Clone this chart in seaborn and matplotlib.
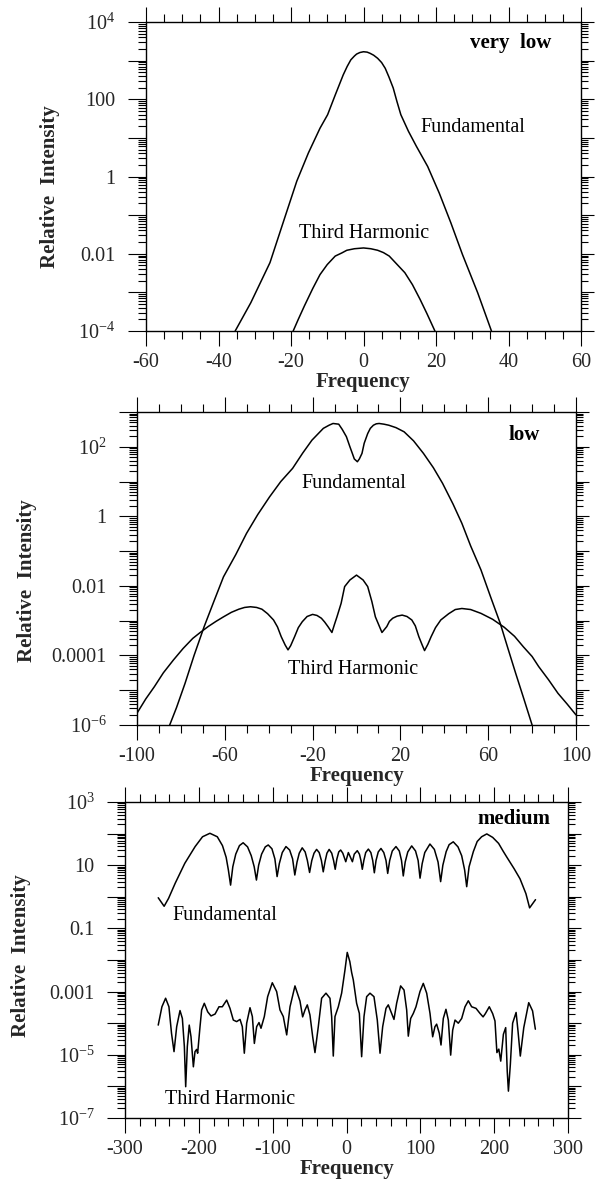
import numpy as np
import matplotlib
matplotlib.use("Agg")
import matplotlib.pyplot as plt
import seaborn as sns
from matplotlib.ticker import FixedLocator, FixedFormatter, LogLocator, NullFormatter, MultipleLocator

# ---------------- data (log10 of relative intensity) ----------------
# Panel 1: very low
vl_fund_x = [-35.4, -31.1, -25.8, -21.6, -18.4, -15.2, -12.0, -9.9, -7.8, -5.6,
             -4.5, -3.5, -2.5, -1.9, -1.0, 0.0, 1.0, 1.8, 2.8, 3.9,
             5.0, 6.0, 7.0, 8.2, 9.2, 10.3, 12.4, 14.6, 17.7, 20.9,
             24.1, 27.3, 31.5, 35.3]
vl_fund_log = [-4.00, -3.27, -2.23, -1.03, -0.12, 0.61, 1.25, 1.60, 2.11, 2.63,
               2.85, 3.02, 3.12, 3.17, 3.21, 3.23, 3.22, 3.19, 3.14, 3.06,
               2.95, 2.80, 2.58, 2.29, 1.95, 1.60, 1.17, 0.78, 0.26, -0.43,
               -1.20, -2.02, -3.01, -4.00]
vl_third_x = [-19.4, -18.0, -16.3, -14.0, -12.0, -10.0, -7.8, -6.0, -4.6, -2.5, 0.0,
              2.0, 3.9, 5.5, 7.1, 9.0, 11.4, 13.5, 15.6, 17.5, 19.7]
vl_third_log = [-4.00, -3.70, -3.35, -2.90, -2.54, -2.28, -2.06, -1.98, -1.91, -1.87, -1.85,
                -1.87, -1.91, -1.97, -2.06, -2.25, -2.49, -2.80, -3.18, -3.55, -4.00]

# Panel 2: low
lo_fund_x = [-85.1, -82, -78.1, -74, -69.4, -65, -60.6, -55, -50.1, -45,
             -39.6, -34.5, -29.1, -24.5, -20.3, -15.1, -12.5, -10.7, -8.1, -6.5,
             -4.6, -3, -1.9, -1, 0.4, 1.3, 2.5, 3.5, 5.1, 6.3,
             7.7, 9, 10.3, 12.5, 14.7, 18, 21.7, 26, 30.5, 35,
             39.2, 44, 48, 52, 56.7, 61, 65.5, 69, 72.5, 76, 80]
lo_fund_log = [-6.0, -5.5, -4.80, -4.0, -3.17, -2.45, -1.74, -1.1, -0.49, 0.05,
               0.56, 1.0, 1.38, 1.82, 2.19, 2.53, 2.62, 2.67, 2.65, 2.50,
               2.29, 2.0, 1.81, 1.65, 1.57, 1.65, 1.81, 2.1, 2.38, 2.53,
               2.62, 2.66, 2.67, 2.65, 2.62, 2.55, 2.43, 2.17, 1.81, 1.40,
               0.95, 0.35, -0.20, -0.85, -1.54, -2.3, -3.08, -3.8, -4.51, -5.2, -6.0]
lo_third_x = [-100, -96, -92.1, -88, -83.4, -79, -74.6, -71, -67.6, -64,
              -60.6, -57, -53.6, -51, -48.3, -45.5, -43.1, -40.5, -37.8, -36,
              -34.3, -32.5, -31.2, -30, -28.2, -26.5, -24.7, -22.5, -20.0, -18,
              -16.0, -14.5, -13.0, -11.2, -10, -8.9, -7, -5.4, -3, 0,
              3, 5.1, 7, 8.6, 10, 11.6, 13.8, 15, 16.5, 18.5,
              20.8, 23, 25.2, 26.8, 28.4, 29.8, 31.0, 32.5, 34.0, 36,
              38.4, 42, 45, 48, 52, 56.7, 62, 67.3, 72, 76,
              80, 83, 87.5, 91.8, 96, 100]
lo_third_log = [-5.66, -5.25, -4.90, -4.5, -4.13, -3.8, -3.51, -3.33, -3.17, -3.02,
                -2.89, -2.76, -2.67, -2.62, -2.60, -2.62, -2.67, -2.8, -2.98, -3.18,
                -3.46, -3.70, -3.84, -3.72, -3.46, -3.2, -3.03, -2.88, -2.82, -2.85,
                -2.93, -3.04, -3.17, -3.34, -3.1, -2.89, -2.5, -2.02, -1.83, -1.69,
                -1.83, -2.02, -2.45, -2.89, -3.1, -3.34, -3.17, -3.02, -2.93, -2.87,
                -2.84, -2.88, -2.98, -3.15, -3.46, -3.68, -3.86, -3.68, -3.46, -3.2,
                -2.98, -2.8, -2.68, -2.65, -2.68, -2.79, -2.96, -3.19, -3.45, -3.75,
                -4.03, -4.32, -4.7, -5.09, -5.4, -5.71]

# Panel 3: medium
me_fund_x = [-255, -247, -241, -232, -219, -205, -195, -185, -175, -168, -163, -160, -157,
             -154, -150, -145, -140, -134, -129, -125, -122,
             -119, -115, -110, -106, -101, -97, -94,
             -91, -87, -82, -77, -73, -70,
             -67, -64, -60, -56, -53, -50,
             -47, -44, -40.5, -37, -34, -31.5,
             -29, -26.5, -23.5, -20, -17.5, -15.3,
             -13, -10.5, -7.9, -5, -1,
             2.5, 8,
             10.5, 14.6, 17.5, 19.5, 21.4,
             23.5, 26, 29.6, 33, 35.5, 37.7,
             40, 43, 46.7, 50.5, 53.5, 55.8,
             58.5, 62, 67, 71.5, 74.5, 76.9,
             79.5, 83, 88.3, 93.5, 97, 99.6,
             102.5, 106, 113, 119, 124, 127.5,
             130.5, 135, 139, 144.6, 151, 156, 160, 162.8,
             166, 171.8, 177, 183, 190, 198, 206, 212, 217, 227, 235, 243, 248, 252, 256]
me_fund_log = [-0.03, -0.30, -0.05, 0.43, 1.06, 1.59, 1.90, 2.01, 1.90, 1.62, 1.25, 0.85, 0.37,
               0.95, 1.35, 1.62, 1.71, 1.58, 1.30, 0.95, 0.53,
               1.00, 1.35, 1.58, 1.64, 1.52, 1.20, 0.64,
               1.05, 1.40, 1.59, 1.48, 1.20, 0.69,
               1.10, 1.38, 1.55, 1.42, 1.15, 0.77,
               1.15, 1.38, 1.50, 1.40, 1.15, 0.79,
               1.12, 1.38, 1.50, 1.38, 1.15, 0.87,
               1.20, 1.42, 1.48, 1.38, 1.11,
               1.40, 1.11,
               1.35, 1.46, 1.35, 1.15, 0.87,
               1.15, 1.40, 1.51, 1.40, 1.15, 0.76,
               1.15, 1.42, 1.53, 1.40, 1.15, 0.74,
               1.15, 1.45, 1.59, 1.45, 1.15, 0.66,
               1.10, 1.42, 1.61, 1.45, 1.15, 0.59,
               1.05, 1.40, 1.67, 1.50, 1.10, 0.48,
               1.00, 1.43, 1.65, 1.74, 1.58, 1.30, 0.85, 0.32,
               0.95, 1.43, 1.75, 1.90, 1.99, 1.88, 1.69, 1.45, 1.26, 0.89, 0.57, 0.10, -0.35, -0.22, -0.09]
me_third_x = [-255, -250, -245, -240.5, -237, -233.6, -230, -225.5, -222.3, -219.6, -217.8, -215.6, -213,
              -210.6, -207.4, -205.2, -203, -201.6, -198.4, -196.2, -192.6, -188, -183.5, -178, -172.7,
              -168.2, -162.3, -157.8, -153.3, -148.8, -144.2, -141.1, -138.4, -135.2, -130.7, -127.5,
              -124.8, -121.7, -118.5, -115.8, -111.3, -106.8, -100.5, -94.6, -90.1, -85.6, -81, -76.5,
              -69.8, -63, -59.4, -56.2, -53.1, -49.5, -45.8, -42.7, -38.2, -33.7, -27.8, -22.4, -20.1,
              -17.9, -15.6, -11.1, -6.6, -2.1, 1, 4.5, 7, 9.2, 13.7, 17.4, 20.5, 23.7, 27.3, 31.8, 37.2,
              41.7, 45.4, 49, 53.5, 56.6, 61.2, 64.3, 67.9, 73.3, 77.9, 81.5, 83.7, 86.9, 90.5, 94.1,
              99.5, 104, 108.6, 113.1, 116.7, 119.8, 122.1, 125.7, 128, 131.1, 134.7, 137.9, 141.1,
              143.8, 147, 151.4, 156, 160.5, 165, 169.5, 175.4, 180.8, 185, 188, 193.4, 198, 201.1,
              203.7, 206.3, 208.9, 212.5, 215.6, 217.7, 219.3, 221.9, 225, 229.7, 232.3, 235.4, 240.1,
              246.8, 252, 255.8]
me_third_log = [-4.06, -3.48, -3.21, -3.48, -4.32, -4.90, -4.11, -3.60, -3.85, -4.74, -6.01, -4.74, -4.06,
                -4.43, -5.38, -4.90, -4.83, -4.95, -4.11, -3.58, -3.37, -3.64, -3.77, -3.71, -3.48,
                -3.48, -3.27, -3.53, -3.90, -3.95, -3.88, -4.11, -4.95, -4.00, -3.51, -3.79,
                -4.64, -4.11, -3.98, -4.16, -3.79, -3.16, -2.72, -3.00, -3.58, -3.79, -4.37, -3.48,
                -2.82, -3.30, -3.80, -3.58, -3.42, -3.74, -4.43, -4.93, -4.11, -3.21, -3.05, -3.21, -3.79,
                -5.04, -3.79, -3.48, -3.05, -2.32, -1.76, -2.05, -2.40, -2.63, -3.37, -3.69, -5.06, -3.79, -3.16, -3.05, -3.16,
                -3.90, -4.95, -4.11, -3.53, -3.42, -3.69, -3.88, -3.37, -2.82, -2.95, -3.58, -4.41, -3.85, -3.69, -3.48,
                -3.00, -2.74, -3.05, -3.69, -4.43, -4.11, -4.03, -4.32, -4.69, -3.85, -3.56, -3.90, -5.01,
                -4.22, -3.90, -4.00, -3.85, -3.48, -3.29, -3.48, -3.53, -3.69, -3.80, -3.70, -3.48, -3.70, -3.93,
                -4.93, -4.82, -5.20, -4.35, -4.14, -5.52, -6.15, -5.31, -4.00, -3.66, -4.25, -5.04, -4.14,
                -3.35, -3.61, -4.19]

# tick labels
p1_decades = [-4, -3, -2, -1, 0, 1, 2, 3, 4]
p1_labels = [r"$\mathregular{10^{-4}}$", "", "0.01", "", "1", "", "100", "", r"$\mathregular{10^{4}}$"]
p2_decades = [-6, -5, -4, -3, -2, -1, 0, 1, 2, 3]
p2_labels = [r"$\mathregular{10^{-6}}$", "", "0.0001", "", "0.01", "", "1", "", r"$\mathregular{10^{2}}$", ""]
p3_decades = [-7, -6, -5, -4, -3, -2, -1, 0, 1, 2, 3]
p3_labels = [r"$\mathregular{10^{-7}}$", "", r"$\mathregular{10^{-5}}$", "", "0.001", "", "0.1", "",
             "10", "", r"$\mathregular{10^{3}}$"]
p1_xticks = [-60, -40, -20, 0, 20, 40, 60]
p2_xticks = [-100, -60, -20, 20, 60, 100]
p3_xticks = [-300, -200, -100, 0, 100, 200, 300]

# ---------------- style ----------------
sns.set_theme(style="ticks")
plt.rcParams["font.family"] = ["Liberation Serif", "DejaVu Serif"]
plt.rcParams["mathtext.fontset"] = "custom"
plt.rcParams["mathtext.rm"] = "Liberation Serif"
plt.rcParams["axes.unicode_minus"] = False

W, H = 603, 1179
fig = plt.figure(figsize=(W / 100, H / 100), dpi=100)
fig.patch.set_facecolor("white")


def add_ax(l, r, t, b):
    return fig.add_axes([l / W, 1 - b / H, (r - l) / W, (b - t) / H])


def fig_text(x, y, s, **kw):
    fig.text(x / W, 1 - y / H, s, **kw)


def style_axes(ax, xlim, xmajor, xminor, decades, labels, ylab_xy):
    ax.set_yscale("log")
    ax.set_xlim(*xlim)
    ax.set_ylim(10.0 ** decades[0], 10.0 ** decades[-1])
    ax.xaxis.set_major_locator(FixedLocator(xmajor))
    ax.xaxis.set_major_formatter(FixedFormatter([str(v) for v in xmajor]))
    ax.xaxis.set_minor_locator(MultipleLocator(xminor))
    ax.yaxis.set_major_locator(FixedLocator([10.0 ** d for d in decades]))
    ax.yaxis.set_major_formatter(FixedFormatter(labels))
    ax.yaxis.set_minor_locator(LogLocator(base=10, subs=np.arange(2, 10), numticks=100))
    ax.yaxis.set_minor_formatter(NullFormatter())
    for s in ax.spines.values():
        s.set_visible(True)
        s.set_linewidth(1.0)
        s.set_color("black")
    ax.tick_params(axis="both", which="both", direction="out", color="black", width=0.8,
                   top=True, right=True, labeltop=False, labelright=False)
    ax.tick_params(axis="x", which="major", length=11, pad=5, labelsize=14.5)
    ax.tick_params(axis="x", which="minor", length=6)
    ax.tick_params(axis="y", which="major", length=13, pad=9, labelsize=14.5)
    ax.tick_params(axis="y", which="minor", length=6)
    ax.set_xlabel("Frequency", fontsize=15, fontweight="bold", labelpad=0)
    ax.set_ylabel("Relative  Intensity", fontsize=15, fontweight="bold")
    ax.yaxis.set_label_coords(*ylab_xy)
    ax.set_facecolor("white")
    ax.grid(False)


def draw(ax, xs, logs):
    sns.lineplot(x=np.array(xs), y=10.0 ** np.array(logs), ax=ax, color="black",
                 linewidth=1.1, sort=False, estimator=None, legend=False)


# Panel 1
ax1 = add_ax(146, 581, 22, 331)
draw(ax1, vl_fund_x, vl_fund_log)
draw(ax1, vl_third_x, vl_third_log)
style_axes(ax1, (-60, 60), p1_xticks, 5, p1_decades, p1_labels, (-0.198, 0.466))

# Panel 2
ax2 = add_ax(137, 576, 412, 725)
draw(ax2, lo_fund_x, lo_fund_log)
draw(ax2, lo_third_x, lo_third_log)
style_axes(ax2, (-100, 100), p2_xticks, 10, p2_decades, p2_labels, (-0.228, 0.46))

# Panel 3
ax3 = add_ax(125, 568, 802, 1118)
draw(ax3, me_fund_x, me_fund_log)
draw(ax3, me_third_x, me_third_log)
style_axes(ax3, (-300, 300), p3_xticks, 20, p3_decades, p3_labels, (-0.212, 0.513))

# shorter ticks on the right side
for ax in (ax1, ax2, ax3):
    for t in ax.yaxis.get_major_ticks(len(ax.yaxis.get_majorticklocs())):
        t.tick2line.set_markersize(9)
    for t in ax.yaxis.get_minor_ticks(len(ax.yaxis.get_minorticklocs())):
        t.tick2line.set_markersize(5)

# annotations
tk = dict(fontsize=14.5, va="center", ha="left", color="black")
bk = dict(fontsize=15, fontweight="bold", va="center", ha="right", color="black")
fig_text(551, 43, "very  low", **bk)
fig_text(420, 128, "Fundamental", **tk)
fig_text(299, 233, "Third Harmonic", **tk)
fig_text(540, 435, "low", **bk)
fig_text(301, 483, "Fundamental", **tk)
fig_text(288, 670, "Third Harmonic", **tk)
fig_text(550, 819, "medium", **bk)
fig_text(172, 916, "Fundamental", **tk)
fig_text(165, 1099, "Third Harmonic", **tk)

fig.savefig("out.png", dpi=100, facecolor="white")
